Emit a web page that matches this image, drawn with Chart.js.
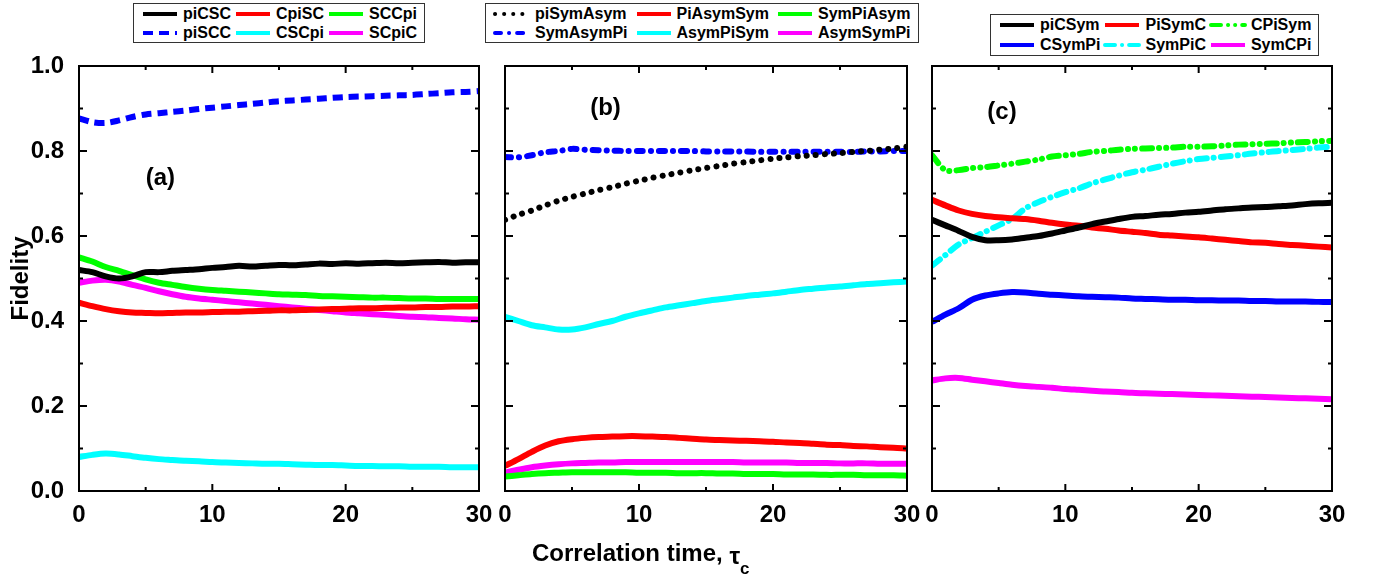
<!DOCTYPE html>
<html>
<head>
<meta charset="utf-8">
<script src="https://cdn.jsdelivr.net/npm/chart.js@4.4.1/dist/chart.umd.min.js"></script>
<style>
  html, body { margin: 0; padding: 0; background: #fff; }
  #wrap { position: relative; width: 1377px; height: 579px; overflow: hidden;
          font-family: "Liberation Sans", Arial, sans-serif; font-weight: bold; color: #000; }
  canvas { position: absolute; top: 0; }
  .legend { position: absolute; border: 1px solid #333; background: #fff; display: grid;
            grid-template-columns: repeat(3, auto); padding: 0 7px; font-size: 16px; }
  .legend .item { display: flex; align-items: center; height: 19px; white-space: nowrap; }
  .legend svg { flex: none; margin-right: 4px; }
  #xtitle { position: absolute; left: 532px; top: 541px; font-size: 24px; line-height: 24px; white-space: nowrap; }
  #xtitle .tau { position: relative; top: 3px; }
  #xtitle .sub { font-size: 17px; vertical-align: -13px; }
</style>
</head>
<body>
<div id="wrap">
  <canvas id="chartA" width="500" height="579" style="left:0px"></canvas>
  <canvas id="chartB" width="440" height="579" style="left:490px"></canvas>
  <canvas id="chartC" width="440" height="579" style="left:920px"></canvas>
  <div class="legend" id="legendA" style="left:133px;top:3px;column-gap:3px"></div>
  <div class="legend" id="legendB" style="left:485px;top:3px;column-gap:7px"></div>
  <div class="legend" id="legendC" style="left:990px;top:14px;column-gap:3px"></div>
  <div id="xtitle">Correlation time, <span class="tau">τ</span><span class="sub">c</span></div>
</div>
<script>
const FONT = '"Liberation Sans", Arial, sans-serif';

// correlation time samples
const TIMES = [0, 1, 2, 3, 4, 5, 6, 7, 8, 9, 10, 11, 12, 13, 14, 15, 16, 17, 18, 19, 20,
  21, 22, 23, 24, 25, 26, 27, 28, 29, 30];

// axis ticks
const X_TICKS = [0, 10, 20, 30];
const X_MINOR = [5, 15, 25];
const Y_TICKS = [0.0, 0.2, 0.4, 0.6, 0.8, 1.0];
const Y_MINOR = [0.1, 0.3, 0.5, 0.7, 0.9];

// panel (a)
const piCSC = [0.520, 0.515, 0.505, 0.500, 0.505, 0.515, 0.515, 0.518, 0.520, 0.522, 0.525, 0.527, 0.530, 0.528, 0.530, 0.532,
  0.531, 0.533, 0.535, 0.534, 0.536, 0.535, 0.536, 0.537, 0.536, 0.537, 0.538, 0.539, 0.537, 0.538, 0.538];
const CpiSC = [0.443, 0.435, 0.428, 0.423, 0.420, 0.419, 0.418, 0.419, 0.420, 0.420, 0.421, 0.422, 0.422, 0.423, 0.424, 0.425,
  0.425, 0.426, 0.427, 0.428, 0.429, 0.430, 0.430, 0.431, 0.432, 0.432, 0.433, 0.433, 0.434, 0.434, 0.435];
const SCCpi = [0.550, 0.540, 0.527, 0.518, 0.508, 0.498, 0.490, 0.485, 0.480, 0.476, 0.473, 0.471, 0.469, 0.467, 0.465, 0.463,
  0.462, 0.461, 0.459, 0.458, 0.457, 0.456, 0.455, 0.455, 0.454, 0.453, 0.453, 0.452, 0.452, 0.452, 0.452];
const piSCC = [0.877, 0.868, 0.866, 0.872, 0.880, 0.886, 0.889, 0.892, 0.895, 0.899, 0.902, 0.905, 0.908, 0.911, 0.914, 0.917,
  0.919, 0.921, 0.923, 0.925, 0.927, 0.928, 0.929, 0.930, 0.931, 0.932, 0.934, 0.936, 0.938, 0.939, 0.941];
const CSCpi = [0.080, 0.085, 0.088, 0.086, 0.082, 0.078, 0.075, 0.073, 0.071, 0.070, 0.068, 0.067, 0.066, 0.065, 0.064, 0.064,
  0.063, 0.062, 0.061, 0.061, 0.060, 0.059, 0.059, 0.058, 0.058, 0.057, 0.057, 0.057, 0.056, 0.056, 0.056];
const SCpiC = [0.490, 0.495, 0.497, 0.493, 0.485, 0.478, 0.470, 0.463, 0.457, 0.453, 0.450, 0.447, 0.444, 0.441, 0.438, 0.435,
  0.432, 0.429, 0.426, 0.423, 0.420, 0.418, 0.416, 0.414, 0.412, 0.410, 0.409, 0.407, 0.406, 0.404, 0.403];

// panel (b)
const piSymAsym = [0.638, 0.650, 0.660, 0.672, 0.683, 0.692, 0.700, 0.708, 0.715, 0.723, 0.730, 0.737, 0.743, 0.749, 0.755, 0.760,
  0.765, 0.770, 0.774, 0.778, 0.782, 0.785, 0.788, 0.790, 0.793, 0.795, 0.798, 0.800, 0.803, 0.806, 0.810];
const PiAsymSym = [0.059, 0.075, 0.092, 0.107, 0.117, 0.122, 0.125, 0.127, 0.128, 0.129, 0.129, 0.128, 0.127, 0.125, 0.123, 0.121,
  0.120, 0.119, 0.118, 0.117, 0.116, 0.114, 0.113, 0.111, 0.109, 0.108, 0.106, 0.105, 0.103, 0.102, 0.100];
const SymPiAsym = [0.034, 0.037, 0.040, 0.042, 0.043, 0.044, 0.044, 0.044, 0.044, 0.044, 0.043, 0.043, 0.043, 0.042, 0.042, 0.042,
  0.041, 0.041, 0.040, 0.040, 0.040, 0.039, 0.039, 0.039, 0.038, 0.038, 0.038, 0.037, 0.037, 0.037, 0.036];
const SymAsymPi = [0.786, 0.785, 0.790, 0.797, 0.800, 0.805, 0.803, 0.802, 0.801, 0.800, 0.800, 0.800, 0.800, 0.800, 0.800, 0.799,
  0.799, 0.799, 0.799, 0.798, 0.798, 0.798, 0.798, 0.798, 0.798, 0.798, 0.798, 0.799, 0.799, 0.800, 0.800];
const AsymPiSym = [0.410, 0.400, 0.390, 0.385, 0.380, 0.380, 0.385, 0.393, 0.400, 0.410, 0.418, 0.425, 0.432, 0.437, 0.442, 0.447,
  0.451, 0.455, 0.459, 0.462, 0.465, 0.469, 0.473, 0.476, 0.479, 0.481, 0.484, 0.487, 0.489, 0.491, 0.493];
const AsymSymPi = [0.043, 0.050, 0.056, 0.060, 0.063, 0.065, 0.066, 0.067, 0.067, 0.068, 0.068, 0.068, 0.068, 0.068, 0.068, 0.068,
  0.068, 0.068, 0.067, 0.067, 0.067, 0.067, 0.066, 0.066, 0.066, 0.065, 0.065, 0.065, 0.064, 0.064, 0.064];

// panel (c)
const piCSym = [0.638, 0.625, 0.612, 0.598, 0.590, 0.590, 0.592, 0.596, 0.600, 0.606, 0.613, 0.620, 0.628, 0.634, 0.640, 0.645,
  0.647, 0.650, 0.652, 0.655, 0.657, 0.660, 0.663, 0.665, 0.667, 0.668, 0.670, 0.672, 0.675, 0.677, 0.678];
const PiSymC = [0.685, 0.672, 0.660, 0.652, 0.647, 0.644, 0.642, 0.640, 0.636, 0.631, 0.627, 0.624, 0.620, 0.617, 0.613, 0.610,
  0.607, 0.603, 0.601, 0.599, 0.597, 0.594, 0.591, 0.588, 0.585, 0.584, 0.581, 0.579, 0.577, 0.575, 0.573];
const CPiSym = [0.790, 0.755, 0.755, 0.760, 0.762, 0.766, 0.770, 0.775, 0.780, 0.787, 0.790, 0.793, 0.798, 0.800, 0.803, 0.805,
  0.806, 0.807, 0.808, 0.810, 0.810, 0.811, 0.813, 0.815, 0.816, 0.817, 0.818, 0.820, 0.821, 0.823, 0.824];
const CSymPi = [0.398, 0.415, 0.430, 0.450, 0.460, 0.465, 0.468, 0.467, 0.464, 0.462, 0.460, 0.458, 0.457, 0.456, 0.455, 0.453,
  0.452, 0.451, 0.450, 0.450, 0.449, 0.449, 0.448, 0.448, 0.447, 0.447, 0.446, 0.446, 0.446, 0.445, 0.445];
const SymPiC = [0.530, 0.555, 0.580, 0.595, 0.610, 0.625, 0.640, 0.665, 0.680, 0.692, 0.703, 0.712, 0.724, 0.733, 0.742, 0.750,
  0.756, 0.763, 0.770, 0.776, 0.781, 0.784, 0.787, 0.790, 0.794, 0.797, 0.800, 0.802, 0.805, 0.808, 0.810];
const SymCPi = [0.260, 0.265, 0.266, 0.262, 0.258, 0.254, 0.250, 0.247, 0.245, 0.243, 0.240, 0.238, 0.236, 0.234, 0.233, 0.231,
  0.230, 0.229, 0.228, 0.227, 0.226, 0.225, 0.224, 0.223, 0.222, 0.221, 0.220, 0.219, 0.218, 0.217, 0.216];

function series(label, values, color, extra) {
  return Object.assign({
    label: label,
    data: TIMES.map((t, i) => ({ x: t, y: values[i] })),
    borderColor: color,
    backgroundColor: color,
    borderWidth: 6,
    pointRadius: 0,
    tension: 0.3,
    fill: false,
    borderJoinStyle: "round",
  }, extra || {});
}

// frame + inward ticks on all four sides
const frameTicks = {
  id: "frameTicks",
  afterDraw(chart) {
    const { ctx, chartArea: a, scales } = chart;
    const x = scales.x, y = scales.y;
    ctx.save();
    ctx.strokeStyle = "#000";
    ctx.lineWidth = 2;
    ctx.strokeRect(a.left, a.top, a.right - a.left, a.bottom - a.top);
    const seg = (x1, y1, x2, y2) => {
      ctx.beginPath(); ctx.moveTo(x1, y1); ctx.lineTo(x2, y2); ctx.stroke();
    };
    const xt = (v, len) => {
      const p = x.getPixelForValue(v);
      seg(p, a.bottom, p, a.bottom - len);
      seg(p, a.top, p, a.top + len);
    };
    const yt = (v, len) => {
      const p = y.getPixelForValue(v);
      seg(a.left, p, a.left + len, p);
      seg(a.right, p, a.right - len, p);
    };
    X_TICKS.forEach(v => xt(v, 7));
    X_MINOR.forEach(v => xt(v, 4));
    Y_TICKS.forEach(v => yt(v, 8));
    Y_MINOR.forEach(v => yt(v, 4));
    ctx.restore();
  }
};

// "(a)", "(b)", "(c)" placed in data coordinates
const panelTag = {
  id: "panelTag",
  afterDraw(chart, args, opts) {
    if (!opts.text) return;
    const { ctx, scales } = chart;
    ctx.save();
    ctx.font = "bold 24px " + FONT;
    ctx.fillStyle = "#000";
    ctx.textAlign = "center";
    ctx.textBaseline = "middle";
    ctx.fillText(opts.text, scales.x.getPixelForValue(opts.x), scales.y.getPixelForValue(opts.y));
    ctx.restore();
  }
};

function makePanel(id, datasets, tag, padding, showY) {
  const yScale = showY ? {
    min: 0, max: 1,
    afterBuildTicks: s => { s.ticks = Y_TICKS.map(v => ({ value: v })); },
    afterFit: s => { s.width = 79; },
    grid: { display: false },
    border: { display: false },
    ticks: {
      color: "#000", padding: 7,
      font: { family: FONT, size: 24, weight: "bold" },
      callback: v => v.toFixed(1),
    },
    title: {
      display: true, text: "Fidelity", color: "#000",
      font: { family: FONT, size: 24, weight: "bold" },
      padding: { top: 7, bottom: 0 },
    },
  } : { min: 0, max: 1, display: false };

  return new Chart(document.getElementById(id), {
    type: "line",
    data: { datasets: datasets },
    options: {
      responsive: false,
      animation: false,
      layout: { padding: padding },
      plugins: {
        legend: { display: false },
        tooltip: { enabled: false },
        panelTag: tag,
      },
      scales: {
        x: {
          type: "linear", min: 0, max: 30,
          afterBuildTicks: s => { s.ticks = X_TICKS.map(v => ({ value: v })); },
          afterFit: s => { s.height = 40; },
          grid: { display: false },
          border: { display: false },
          ticks: {
            color: "#000", padding: 2, maxRotation: 0, autoSkip: false,
            font: { family: FONT, size: 24, weight: "bold" },
          },
        },
        y: yScale,
      },
    },
    plugins: [frameTicks, panelTag],
  });
}

function buildLegend(chart, boxId) {
  const box = document.getElementById(boxId);
  const items = Chart.defaults.plugins.legend.labels.generateLabels(chart);
  const NS = "http://www.w3.org/2000/svg";
  items.forEach(item => {
    const row = document.createElement("div");
    row.className = "item";
    const svg = document.createElementNS(NS, "svg");
    svg.setAttribute("width", "38");
    svg.setAttribute("height", "10");
    const ln = document.createElementNS(NS, "line");
    ln.setAttribute("x1", "2"); ln.setAttribute("y1", "5");
    ln.setAttribute("x2", "36"); ln.setAttribute("y2", "5");
    ln.setAttribute("stroke", item.strokeStyle);
    ln.setAttribute("stroke-width", String(item.lineWidth - 2));
    ln.setAttribute("stroke-linecap", item.lineCap || "butt");
    if (item.lineDash && item.lineDash.length) ln.setAttribute("stroke-dasharray", item.lineDash.join(" "));
    svg.appendChild(ln);
    row.appendChild(svg);
    row.appendChild(document.createTextNode(item.text));
    box.appendChild(row);
  });
}

const chartA = makePanel("chartA", [
  series("piCSC", piCSC, "#000000"),
  series("CpiSC", CpiSC, "#ff0000"),
  series("SCCpi", SCCpi, "#00ff00"),
  series("piSCC", piSCC, "#0000ff", { borderDash: [10, 6], borderCapStyle: "butt" }),
  series("CSCpi", CSCpi, "#00ffff"),
  series("SCpiC", SCpiC, "#ff00ff"),
], { text: "(a)", x: 6.1, y: 0.736 }, { left: 0, right: 21, top: 66, bottom: 48 }, true);

const chartB = makePanel("chartB", [
  series("piSymAsym", piSymAsym, "#000000", { borderDash: [0.1, 9], borderCapStyle: "round" }),
  series("PiAsymSym", PiAsymSym, "#ff0000"),
  series("SymPiAsym", SymPiAsym, "#00ff00"),
  series("SymAsymPi", SymAsymPi, "#0000ff", { borderDash: [6, 8, 0.1, 8], borderCapStyle: "round" }),
  series("AsymPiSym", AsymPiSym, "#00ffff"),
  series("AsymSymPi", AsymSymPi, "#ff00ff"),
], { text: "(b)", x: 7.5, y: 0.90 }, { left: 15, right: 23, top: 66, bottom: 48 }, false);

const chartC = makePanel("chartC", [
  series("piCSym", piCSym, "#000000"),
  series("PiSymC", PiSymC, "#ff0000"),
  series("CPiSym", CPiSym, "#00ff00", { borderDash: [10, 7, 0.1, 7, 0.1, 7], borderCapStyle: "round" }),
  series("CSymPi", CSymPi, "#0000ff"),
  series("SymPiC", SymPiC, "#00ffff", { borderDash: [10, 7, 0.1, 7], borderCapStyle: "round" }),
  series("SymCPi", SymCPi, "#ff00ff"),
], { text: "(c)", x: 5.25, y: 0.892 }, { left: 12, right: 28, top: 66, bottom: 48 }, false);

buildLegend(chartA, "legendA");
buildLegend(chartB, "legendB");
buildLegend(chartC, "legendC");
document.querySelectorAll("#legendC .item").forEach(el => { el.style.height = "20px"; });
</script>
</body>
</html>
